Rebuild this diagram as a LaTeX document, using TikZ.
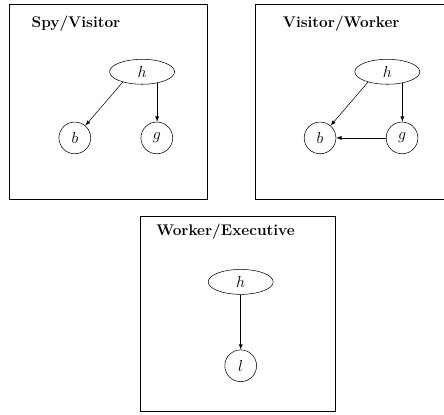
\documentclass[tikz,border=0pt]{standalone}
\usepackage{amssymb}
\usepackage{tikz}
\usetikzlibrary{arrows,shapes.geometric}

\begin{document}
\begin{tikzpicture}[>=latex,
  var/.style={ellipse, draw, minimum width=1.72cm, minimum height=0.66cm, inner sep=0pt, font=\large},
  leaf/.style={circle, draw, minimum size=0.84cm, inner sep=0pt, font=\large},
  frame/.style={line width=0.8pt},
  title/.style={anchor=base west, inner sep=0pt, font=\bfseries\fontsize{11.6}{14}\selectfont}]
\clip (0,0) rectangle (11.75,10.98);
%\draw (0,0) grid (11,10);

% Spy/Visitor
\draw [frame] (0.24,5.69) rectangle (5.48,10.85);
\node [title] (t1) at (0.83,10.24) {Spy/Visitor};
\node [var] (h1) at (3.76,9.08) {$h$};
\node [leaf] (b1) at (1.98,7.33) {$b$};
\node [leaf] (g1) at (4.15,7.33) {$g$};
\draw [->] (h1.-152) -- (b1);
\draw [->] (h1.-37) -- (h1.-37 |- g1.north);

% Visitor/Worker
\draw [frame] (6.77,5.69) rectangle (12.01,10.85);
\node [title] (t2) at (7.48,10.24) {Visitor/Worker};
\node [var] (h2) at (10.25,9.08) {$h$};
\node [leaf] (b2) at (8.47,7.33) {$b$};
\node [leaf] (g2) at (10.64,7.33) {$g$};
\draw [->] (h2.-152) -- (b2);
\draw [->] (h2.-37) -- (h2.-37 |- g2.north);
\draw [->] (g2) -- (b2);

% Worker/Executive
\draw [frame] (3.73,0.08) rectangle (8.89,5.24);
\node [title] (t3) at (4.13,4.76) {Worker/Executive};
\node [var] (h3) at (6.37,3.52) {$h$};
\node [leaf] (l3) at (6.37,1.30) {$l$};
\draw [->] (h3) -- (l3);

\end{tikzpicture}
\end{document}
